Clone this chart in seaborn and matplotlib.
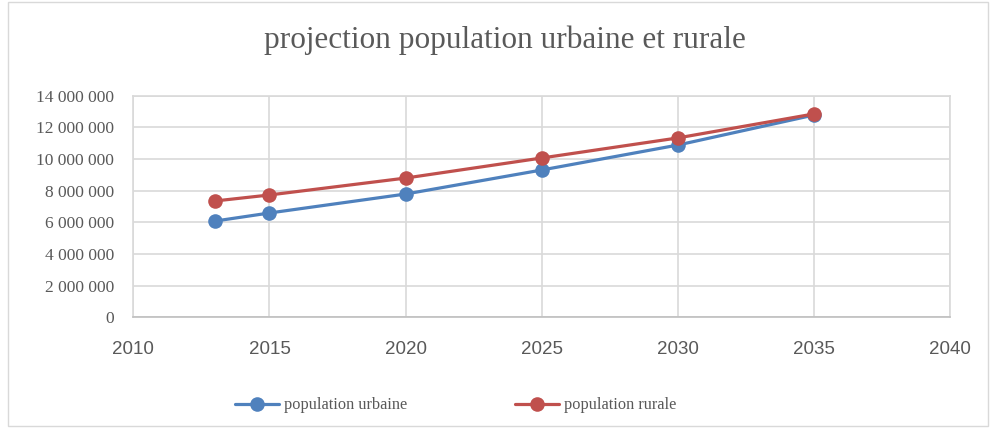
import matplotlib
matplotlib.use("Agg")
import matplotlib.pyplot as plt
import pandas as pd
import seaborn as sns
from matplotlib.patches import Rectangle
from matplotlib.ticker import FuncFormatter

YEARS = [2013, 2015, 2020, 2025, 2030, 2035]
URBAINE = [6080000, 6590000, 7790000, 9310000, 10890000, 12790000]
RURALE = [7350000, 7730000, 8800000, 10070000, 11340000, 12860000]
SERIES = ["population urbaine", "population rurale"]
COLORS = ["#4F81BD", "#C0504D"]
TITLE = "projection population urbaine et rurale"
X_TICKS = [2010, 2015, 2020, 2025, 2030, 2035, 2040]
Y_TICKS = [0, 2000000, 4000000, 6000000, 8000000, 10000000, 12000000, 14000000]


def fmt_space(v, pos):
    return f"{int(v):,}".replace(",", " ")


def main():
    sns.set_theme(style="white")
    plt.rcParams["font.family"] = ["Liberation Serif", "DejaVu Serif"]

    df = pd.DataFrame({
        "year": YEARS * 2,
        "value": URBAINE + RURALE,
        "serie": [SERIES[0]] * len(YEARS) + [SERIES[1]] * len(YEARS),
    })

    fig = plt.figure(figsize=(9.95, 4.28), dpi=100)
    ax = fig.add_axes([0.134, 0.259, 0.821, 0.517])
    fig.patches.append(Rectangle((0.008, 0.005), 0.985, 0.99, transform=fig.transFigure,
                                 fill=False, edgecolor="#d9d9d9", linewidth=1))

    sns.lineplot(data=df, x="year", y="value", hue="serie", palette=COLORS,
                 marker="o", markersize=10.5, markeredgewidth=0, linewidth=2.3, ax=ax)

    ax.set_xlim(2010, 2040)
    ax.set_ylim(0, 14000000)
    ax.set_xticks(X_TICKS)
    ax.set_yticks(Y_TICKS)
    ax.yaxis.set_major_formatter(FuncFormatter(fmt_space))
    ax.grid(True, color="#d9d9d9", linewidth=1.2)
    ax.set_axisbelow(True)
    for s in ax.spines.values():
        s.set_color("#d9d9d9")
        s.set_linewidth(1.2)
    ax.spines["bottom"].set_color("#bfbfbf")
    ax.tick_params(axis="y", length=0, pad=14, labelsize=12.5, labelcolor="#595959")
    ax.tick_params(axis="x", length=0, pad=17, labelsize=13.5, labelcolor="#595959")
    for lab in ax.get_xticklabels():
        lab.set_family(["Liberation Sans", "DejaVu Sans"])
    ax.set_xlabel("")
    ax.set_ylabel("")

    fig.suptitle(TITLE, x=0.507, y=0.94, fontsize=22.5, color="#595959")

    handles, labels = ax.get_legend_handles_labels()
    ax.legend(handles, labels, loc="lower center", bbox_to_anchor=(0.458, 0.0),
              bbox_transform=fig.transFigure, ncol=2, frameon=False, fontsize=11.8,
              labelcolor="#595959", columnspacing=6.6, handlelength=2.7, handletextpad=0.3)

    fig.savefig("out.png", dpi=100)


if __name__ == "__main__":
    main()
